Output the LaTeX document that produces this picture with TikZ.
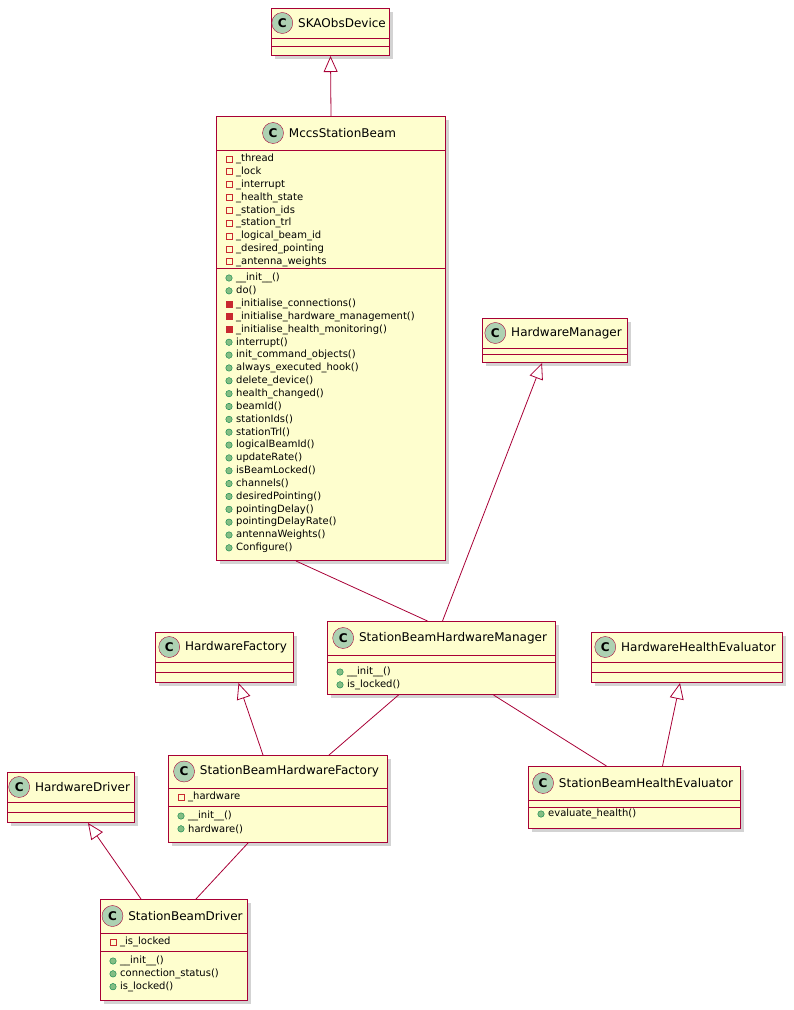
\documentclass[tikz,border=0pt]{standalone}
\usepackage{fontspec}
\setmainfont{DejaVu Sans}
\usetikzlibrary{arrows.meta,shadows,positioning}
\definecolor{umlfill}{HTML}{FEFECE}
\definecolor{umlline}{HTML}{A80036}
\definecolor{umlicon}{HTML}{ADD1B2}
\definecolor{privred}{HTML}{C82930}
\definecolor{pubgreen}{HTML}{84BE84}
\definecolor{publine}{HTML}{038048}
\tikzstyle{box}   =[draw=umlline, fill=umlfill, line width=1pt, inner sep=0pt,
                    anchor=north west, drop shadow={shadow xshift=3pt, shadow yshift=-3pt, opacity=0.35}]
\tikzstyle{icon}  =[circle, draw=umlline, fill=umlicon, minimum size=21pt, inner sep=0pt,
                    font=\fontsize{12}{12}\selectfont\bfseries]
\tikzstyle{title} =[inner sep=0pt, font=\fontsize{12}{14}\selectfont]
\tikzstyle{member}=[inner sep=0pt, anchor=west, font=\fontsize{10}{12}\selectfont]
\tikzstyle{priva} =[draw=privred, minimum size=6pt, inner sep=0pt, line width=0.8pt]
\tikzstyle{privm} =[draw=privred, fill=privred, minimum size=6pt, inner sep=0pt]
\tikzstyle{pub}   =[circle, draw=publine, fill=pubgreen, minimum size=6.5pt, inner sep=0pt]
\tikzstyle{edge}  =[draw=umlline, line width=0.8pt]
\tikzstyle{inherit}=[edge, -{Triangle[open, width=14pt, length=16pt]}]
% class box: id, x, y, width, header, attr h, method h, title, attrs, methods
\newcommand{\umlclass}[9]{%
  \node[box, minimum width=#4pt, minimum height=\the\numexpr#5+#6+#7\relax pt] (#1) at (#2,#3) {};
  \draw[edge] (#2,#3+#5) -- +(#4,0);
  \draw[edge] (#2,#3+#5+#6) -- +(#4,0);
  \node[title] (#1-t) at (#2+#4/2+12,#3+#5/2) {#8};
  \node[icon, left=5pt of #1-t] (#1-c) {C};
  \foreach \k/\s [count=\i] in {#9}{
    \ifnum\k=0\else
    \pgfmathsetmacro\yy{#3+#5+(\k==1 ? 0 : #6)+9+12.85*(\i-1)}
    \ifcase\k\or
      \node[priva] (#1-k\i) at (#2+13,\yy) {};\or
      \node[privm] (#1-k\i) at (#2+13,\yy) {};\or
      \node[pub]   (#1-k\i) at (#2+13,\yy) {};\fi
    \node[member] (#1-m\i) at (#2+20,\yy) {\s};
    \fi
  }}
\newcommand{\umlmeth}[6]{% id, x, y0 of methods, start index, list
  \foreach \k/\s [count=\i] in {#5}{
    \pgfmathsetmacro\yy{#3+10+12.85*(\i-1)}
    \ifcase\k\or
      \node[priva] (#1-n\i) at (#2+13,\yy) {};\or
      \node[privm] (#1-n\i) at (#2+13,\yy) {};\or
      \node[pub]   (#1-n\i) at (#2+13,\yy) {};\fi
    \node[member] (#1-p\i) at (#2+20,\yy) {\s};
  }}
\begin{document}
\begin{tikzpicture}[x=1pt, y=-1pt]
  \useasboundingbox (0,0) rectangle (793,1010);

  \umlclass{ska}{271}{8}{118}{30}{8}{9}{SKAObsDevice}{0/x}
  \umlclass{beam}{216}{116}{229}{34}{118}{292}{MccsStationBeam}{%
    1/\_thread, 1/\_lock, 1/\_interrupt, 1/\_health\_state, 1/\_station\_ids,
    1/\_station\_trl, 1/\_logical\_beam\_id, 1/\_desired\_pointing, 1/\_antenna\_weights}
  \umlmeth{beam}{216}{268}{1}{%
    3/\_\_init\_\_(), 3/do(), 2/\_initialise\_connections(), 2/\_initialise\_hardware\_management(),
    2/\_initialise\_health\_monitoring(), 3/interrupt(), 3/init\_command\_objects(),
    3/always\_executed\_hook(), 3/delete\_device(), 3/health\_changed(), 3/beamId(),
    3/stationIds(), 3/stationTrl(), 3/logicalBeamId(), 3/updateRate(), 3/isBeamLocked(),
    3/channels(), 3/desiredPointing(), 3/pointingDelay(), 3/pointingDelayRate(),
    3/antennaWeights(), 3/Configure()}{}
  \umlclass{hwm}{482}{318}{145}{30}{6}{8}{HardwareManager}{0/x}
  \umlclass{sbhm}{327}{621}{228}{34}{7}{32}{StationBeamHardwareManager}{0/x}
  \umlmeth{sbhm}{327}{662}{1}{3/\_\_init\_\_(), 3/is\_locked()}{}
  \umlclass{hwf}{155}{632}{138}{30}{10}{10}{HardwareFactory}{0/x}
  \umlclass{hhe}{591}{632}{191}{30}{10}{10}{HardwareHealthEvaluator}{0/x}
  \umlclass{sbhf}{168}{755}{219}{33}{18}{36}{StationBeamHardwareFactory}{1/\_hardware}
  \umlmeth{sbhf}{168}{806}{1}{3/\_\_init\_\_(), 3/hardware()}{}
  \umlclass{sbhe}{528}{766}{212}{34}{7}{21}{StationBeamHealthEvaluator}{0/x}
  \umlmeth{sbhe}{528}{804}{1}{3/evaluate\_health()}{}
  \umlclass{hwd}{7}{772}{127}{30}{10}{10}{HardwareDriver}{0/x}
  \umlclass{sbd}{100}{899}{147}{34}{18}{49}{StationBeamDriver}{1/\_is\_locked}
  \umlmeth{sbd}{100}{951}{1}{3/\_\_init\_\_(), 3/connection\_status(), 3/is\_locked()}{}

  \draw[inherit] (beam.north) -- (ska.south);
  \draw[inherit] ([xshift=1pt]sbhm.north) -- ([xshift=-13pt]hwm.south);
  \draw[edge] ([xshift=-35pt]beam.south) -- ([xshift=-14pt]sbhm.north);
  \draw[inherit] ([xshift=-15pt]sbhf.north) -- ([xshift=14pt]hwf.south);
  \draw[edge] ([xshift=-43pt]sbhm.south) -- ([xshift=51pt]sbhf.north);
  \draw[edge] ([xshift=52pt]sbhm.south) -- ([xshift=-28pt]sbhe.north);
  \draw[inherit] ([xshift=28pt]sbhe.north) -- ([xshift=-7pt]hhe.south);
  \draw[inherit] ([xshift=-33pt]sbd.north) -- ([xshift=17pt]hwd.south);
  \draw[edge] ([xshift=22pt]sbd.north) -- ([xshift=-30pt]sbhf.south);
\end{tikzpicture}
\end{document}
